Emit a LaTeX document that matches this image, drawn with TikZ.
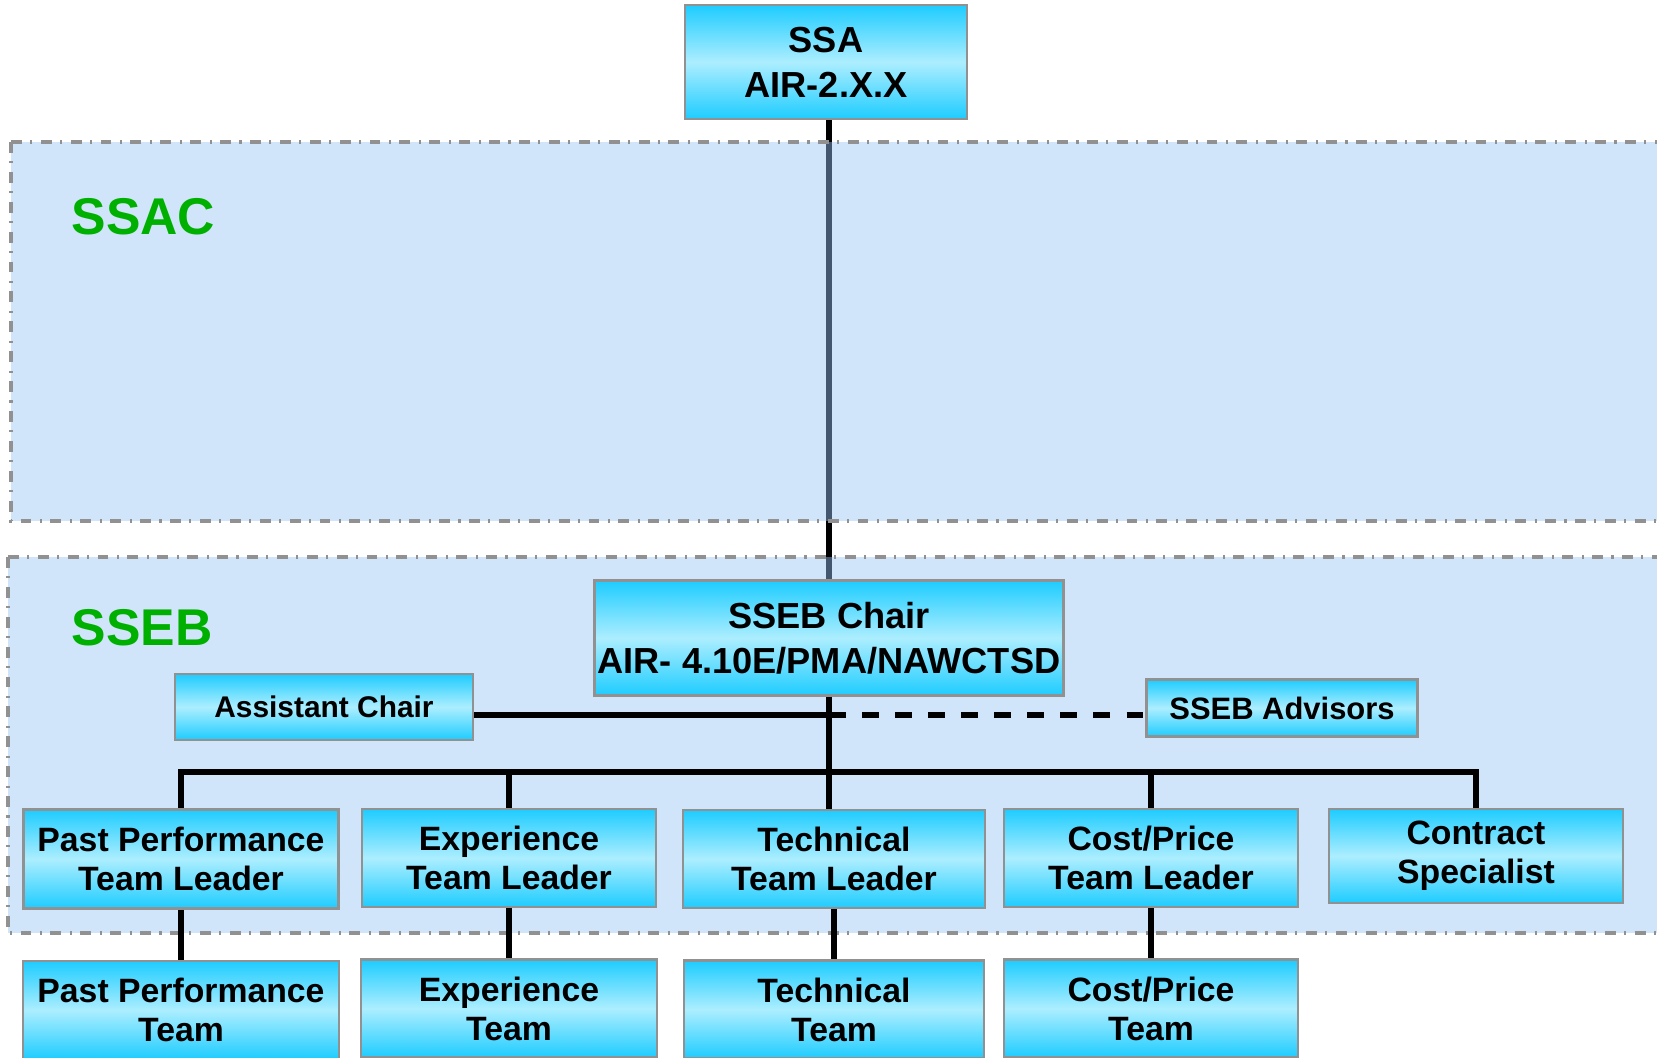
\documentclass[tikz,border=0pt]{standalone}
\usepackage{fontspec}
\setmainfont{Liberation Sans}
\usepackage{xcolor}
\usepackage{tikz}
\usetikzlibrary{positioning,calc}
\definecolor{boxcyan}{RGB}{30,204,255}
\definecolor{boxlight}{RGB}{172,238,255}
\definecolor{boxedge}{RGB}{145,145,145}
\definecolor{areablue}{RGB}{150,195,244}
\definecolor{areaedge}{RGB}{145,145,145}
\definecolor{labelgreen}{RGB}{0,176,0}
\pgfdeclarelayer{back}
\pgfsetlayers{back,main}
\tikzset{
  orgbox/.style={draw=boxedge, line width=0.7pt, top color=boxcyan, bottom color=boxcyan,
    middle color=boxlight, align=center, inner sep=0pt},
  bigtext/.style={font=\fontsize{10.3}{12.8}\selectfont\bfseries},
  rowtext/.style={font=\fontsize{9.6}{11.1}\selectfont\bfseries},
  smalltext/.style={font=\fontsize{8.5}{10}\selectfont\bfseries},
  conn/.style={line width=1.7pt},
  area/.style={draw=areaedge, line width=1.1pt, dash pattern=on 3.1pt off 2.4pt on 0.6pt off 2.4pt,
    fill=areablue, fill opacity=0.45},
  arealabel/.style={text=labelgreen, font=\fontsize{14.7}{17}\selectfont\bfseries, inner sep=0pt, anchor=west}
}
\begin{document}
\begin{tikzpicture}[x=0.01cm, y=-0.01cm]
    \useasboundingbox (0,0) rectangle (1657,1058);

    % SSA
    \node[orgbox, bigtext, minimum width=2.82cm, minimum height=1.14cm] (ssa) at (826,62) {SSA\\AIR-2.X.X};

    % SSEB chair and helpers
    \node[orgbox, bigtext, minimum width=4.69cm, minimum height=1.15cm] (chair) at (829,638) {SSEB Chair\\AIR- 4.10E/PMA/NAWCTSD};
    \node[orgbox, smalltext, minimum width=2.98cm, minimum height=0.66cm] (asst) at (324,707) {Assistant Chair};
    \node[orgbox, smalltext, font=\fontsize{8.8}{10}\selectfont\bfseries, minimum width=2.71cm, minimum height=0.57cm] (advisors) at (1282,708) {SSEB Advisors};

    % Team leaders
    \node[orgbox, rowtext, minimum width=3.15cm, minimum height=0.99cm] (pptl) at (181,859) {Past Performance\\Team Leader};
    \node[orgbox, rowtext, minimum width=2.94cm, minimum height=0.98cm] (exptl) at (509,858) {Experience\\Team Leader};
    \node[orgbox, rowtext, minimum width=3.02cm, minimum height=0.98cm] (techtl) at (834,859) {Technical\\Team Leader};
    \node[orgbox, rowtext, minimum width=2.94cm, minimum height=0.98cm] (costtl) at (1151,858) {Cost/Price\\Team Leader};
    \node[orgbox, rowtext, minimum width=2.94cm, minimum height=0.94cm] (contract) at (1476,856) {Contract\\Specialist};

    % Teams
    \node[orgbox, rowtext, minimum width=3.16cm, minimum height=0.98cm, below=0.5cm of pptl] (ppteam) {Past Performance\\Team};
    \node[orgbox, rowtext, minimum width=2.96cm, minimum height=0.98cm, below=0.5cm of exptl] (expteam) {Experience\\Team};
    \node[orgbox, rowtext, minimum width=3.00cm, minimum height=0.98cm, below=0.5cm of techtl] (techteam) {Technical\\Team};
    \node[orgbox, rowtext, minimum width=2.94cm, minimum height=0.98cm, below=0.5cm of costtl] (costteam) {Cost/Price\\Team};

    % Board labels
    \node[arealabel] (ssaclabel) at (71,217) {SSAC};
    \node[arealabel] (sseblabel) at (71,628) {SSEB};

    % Boards behind the boxes
    \begin{pgfonlayer}{back}
        \draw[conn] (chair.north |- ssa.south) -- (chair.north);
        \draw[area] (11,142) rectangle (1670,521);
        \draw[area] (8,557) rectangle (1670,933);
    \end{pgfonlayer}

    % Chair links
    \coordinate (link) at (0,715);
    \coordinate (bus) at (0,772);
    \draw[conn] (asst.east |- link) -- (chair.south |- link);
    \draw[conn, dash pattern=on 4.8pt off 4.6pt] (chair.south |- link) -- (advisors.west |- link);
    \draw[conn] (chair.south) -- (chair.south |- techtl.north);
    \draw[conn] (pptl.north) -- (pptl.north |- bus) -- (contract.north |- bus) -- (contract.north);
    \draw[conn] (exptl.north) -- (exptl.north |- bus);
    \draw[conn] (costtl.north) -- (costtl.north |- bus);

    % Leader to team
    \draw[conn] (pptl.south) -- (ppteam.north);
    \draw[conn] (exptl.south) -- (expteam.north);
    \draw[conn] (techtl.south) -- (techteam.north);
    \draw[conn] (costtl.south) -- (costteam.north);
\end{tikzpicture}
\end{document}
